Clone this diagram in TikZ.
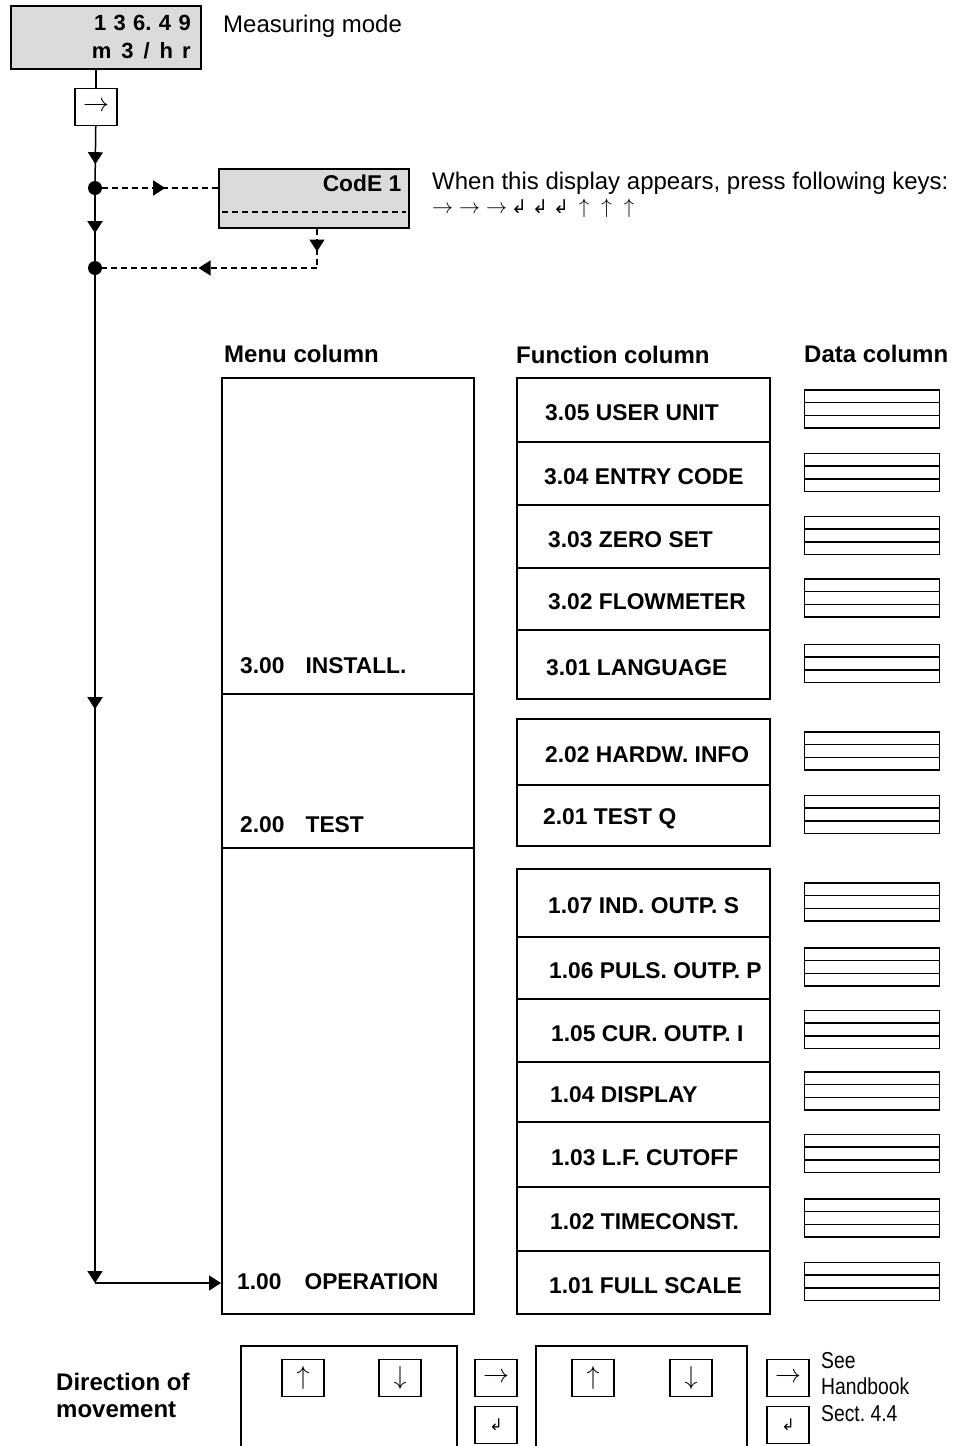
\documentclass[tikz,border=0pt]{standalone}
\usepackage{fix-cm}
\usepackage{fontspec}
\setmainfont{Liberation Sans}
\newfontfamily\symbolfont{DejaVu Sans}
\newfontfamily\narrowfont{Liberation Sans}[FakeStretch=0.84]
\usetikzlibrary{arrows.meta,decorations.markings,positioning,calc}
\newcommand{\enterkey}{{\symbolfont ↲}}
\newcommand{\lbl}{\fontsize{22.8}{26}\selectfont\bfseries}
\newcommand{\head}{\fontsize{24}{28}\selectfont\bfseries}
\frenchspacing

\begin{document}
\begin{tikzpicture}[x=1pt,y=-1pt,
    every node/.style={inner sep=0pt, font=\fontsize{24}{24}\selectfont},
    >={Triangle[width=15pt,length=12pt]},
    box/.style={draw, line width=1.5pt, anchor=north west},
    lcd/.style={box, fill=black!14},
    keybox/.style={draw, line width=1.4pt, minimum width=42pt, minimum height=37pt,
        font=\fontsize{26}{26}\selectfont},
    dot/.style={circle, fill, minimum size=14pt},
    mainline/.style={line width=1.5pt},
    dashline/.style={line width=1.4pt, dash pattern=on 6pt off 4pt},
    fcell/.style={box, minimum width=253pt},
    databox/.style={draw, line width=1.5pt, minimum width=135pt, minimum height=38pt},
    arrowat/.style={decoration={markings, mark=at position #1 with {\arrow{>}}}, postaction={decorate}},
    arrowattwo/.style 2 args={decoration={markings, mark=at position #1 with {\arrow{>}},
        mark=at position #2 with {\arrow{>}}}, postaction={decorate}}]
  \useasboundingbox (0,0) rectangle (962,1446);

  % measuring mode and code entry
  \node[lcd, minimum width=190pt, minimum height=63pt, align=right, text width=170pt,
        inner xsep=10pt, font=\fontsize{22}{28}\selectfont\bfseries] (disp) at (10,5)
        {1 3 6. 4 9\\
         m\hspace{10pt}3\hspace{10pt}/\hspace{10pt}h\hspace{9pt}r};
  \node[anchor=west] (mode) at (223,26) {Measuring mode};
  \node[keybox] (kright) at (96,107) {$\rightarrow$};
  \node[dot] (d1) at (95,188) {};
  \node[dot] (d2) at (95,268) {};
  \node[lcd, minimum width=190pt, minimum height=59pt] (code) at (218,168) {};
  \node[anchor=east, font=\lbl] (codetxt) at ($(code.north east)+(-8,15)$) {CodE 1};
  \draw[dashline] (222,212) -- (406,212);
  \node[anchor=north west, align=left, font=\fontsize{24}{24}\selectfont] (hint) at (432,172)
        {When this display appears, press following keys:\\
         \fontsize{21}{21}\selectfont
         $\rightarrow$\hspace{6pt}$\rightarrow$\hspace{6pt}$\rightarrow$\hspace{4pt}%
         {\fontsize{19}{19}\selectfont\enterkey\hspace{5pt}\enterkey\hspace{5pt}\enterkey}%
         \hspace{10pt}$\uparrow$\hspace{12pt}$\uparrow$\hspace{12pt}$\uparrow$};
  \coordinate (cturn) at (317,268);
  \coordinate (corner) at (95,1283);

  % columns
  \node[anchor=west, font=\head] (hmenu) at (224,354) {Menu column};
  \node[anchor=west, font=\head] (hfunc) at (516,355) {Function column};
  \node[anchor=west, font=\head] (hdata) at (804,354) {Data column};

  \node[box, minimum width=252pt, minimum height=936pt] (menu) at (221,377) {};
  \draw[mainline] (221,694) -- (473,694);
  \draw[mainline] (221,848) -- (473,848);
  \node[anchor=west, font=\lbl] (m300) at (240,666) {3.00\hspace{21pt}INSTALL.};
  \node[anchor=west, font=\lbl] (m200) at (240,825) {2.00\hspace{21pt}TEST};
  \node[anchor=west, font=\lbl] (m100) at (237,1282) {1.00\hspace{23pt}OPERATION};

  \foreach \nm/\ytop/\ybot/\lx/\lab in {
      305/377/441/545/3.05 USER UNIT, 304/441/504/544/3.04 ENTRY CODE,
      303/504/567/548/3.03 ZERO SET, 302/567/629/548/3.02 FLOWMETER,
      301/629/698/546/3.01 LANGUAGE,
      202/718/784/545/2.02 HARDW. INFO, 201/784/845/543/2.01 TEST Q,
      107/868/936/548/1.07 IND. OUTP. S, 106/936/998/549/1.06 PULS. OUTP. P,
      105/998/1061/551/1.05 CUR. OUTP. I, 104/1061/1121/550/1.04 DISPLAY,
      103/1121/1186/551/1.03 L.F. CUTOFF, 102/1186/1250/550/1.02 TIMECONST.,
      101/1250/1313/549/1.01 FULL SCALE} {
    \node[fcell, minimum height={\ybot-\ytop}] (f\nm) at (516,\ytop) {};
    \node[anchor=west, font=\lbl] (t\nm) at ([yshift=-4pt]\lx,{(\ytop+\ybot)/2}) {\lab};
    \node[databox] (dat\nm) at (872,{(\ytop+\ybot)/2}) {};
    \draw[line width=1.4pt] ($(dat\nm.north west)!1/3!(dat\nm.south west)$)
      -- ($(dat\nm.north east)!1/3!(dat\nm.south east)$);
    \draw[line width=1.4pt] ($(dat\nm.north west)!2/3!(dat\nm.south west)$)
      -- ($(dat\nm.north east)!2/3!(dat\nm.south east)$);
  }

  % connectors
  \draw[mainline] (disp.south -| kright) -- (kright);
  \draw[mainline, arrowat=38pt] (kright) -- (d1);
  \draw[mainline, arrowat=38pt] (d1) -- (d2);
  \draw[mainline, arrowat=434pt, ->] (d2) -- (corner);
  \draw[mainline, ->] (corner) -- (corner -| menu.west);
  \draw[dashline, arrowat=63pt] (d1) -- (d1 -| code.west);
  \draw[dashline, arrowattwo={23pt}{158pt}] (cturn |- code.south) -- (cturn) -- (d2);

  % direction of movement
  \node[anchor=west, align=left, font=\fontsize{24}{27}\selectfont\bfseries] (dir) at (56,1395)
        {Direction of\\movement};
  \node[box, minimum width=216pt, minimum height=130pt] (panA) at (240,1345) {};
  \node[box, minimum width=211pt, minimum height=130pt] (panB) at (535,1345) {};
  \node[keybox] (aup) at (303,1378) {$\uparrow$};
  \node[keybox] (adown) at (400,1378) {$\downarrow$};
  \node[keybox] (bup) at (593,1378) {$\uparrow$};
  \node[keybox] (bdown) at (691,1378) {$\downarrow$};
  \node[keybox] (aright) at (496,1378) {$\rightarrow$};
  \node[keybox, font=\fontsize{16}{16}\selectfont] (aenter) at (496,1425) {\enterkey};
  \node[keybox] (bright) at (788,1378) {$\rightarrow$};
  \node[keybox, font=\fontsize{16}{16}\selectfont] (benter) at (788,1425) {\enterkey};
  \node[anchor=north west, align=left, font=\fontsize{23}{26.5}\selectfont\narrowfont] (see)
        at (821,1352) {See\\Handbook\\Sect. 4.4};
\end{tikzpicture}
\end{document}
